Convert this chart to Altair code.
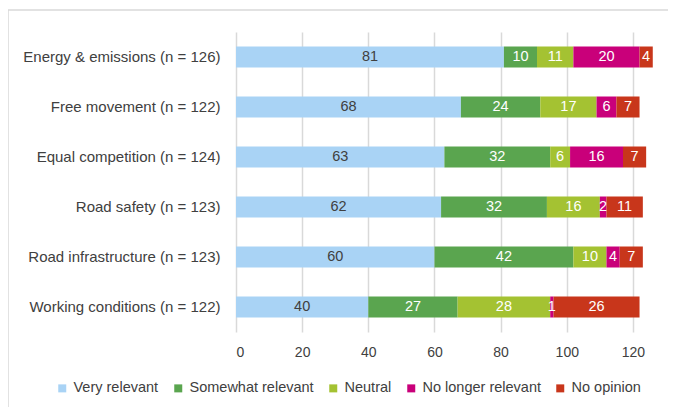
import altair as alt
import pandas as pd

categories = [
    "Energy & emissions (n = 126)",
    "Free movement (n = 122)",
    "Equal competition (n = 124)",
    "Road safety (n = 123)",
    "Road infrastructure (n = 123)",
    "Working conditions (n = 122)",
]
series = ["Very relevant", "Somewhat relevant", "Neutral", "No longer relevant", "No opinion"]
very_relevant = [81, 68, 63, 62, 60, 40]
somewhat_relevant = [10, 24, 32, 32, 42, 27]
neutral = [11, 17, 6, 16, 10, 28]
no_longer_relevant = [20, 6, 16, 2, 4, 1]
no_opinion = [4, 7, 7, 11, 7, 26]
colors = ["#A9D3F5", "#5AA54F", "#A4C232", "#C9007A", "#C8361B"]
text_colors = ["#404040", "#FFFFFF", "#FFFFFF", "#FFFFFF", "#FFFFFF"]
x_ticks = [0, 20, 40, 60, 80, 100, 120]

cols = [very_relevant, somewhat_relevant, neutral, no_longer_relevant, no_opinion]
rows = []
for si, (s, vals) in enumerate(zip(series, cols)):
    for ci, c in enumerate(categories):
        rows.append({"category": c, "series": s, "idx": si, "value": vals[ci],
                     "tcolor": text_colors[si]})
df = pd.DataFrame(rows)

FONT = "Liberation Sans"
W, H = 430, 300

base = alt.Chart(df).transform_stack(
    stack="value", groupby=["category"], as_=["x0", "x1"],
    sort=[alt.SortField("idx", order="ascending")]
).transform_calculate(mid="(datum.x0 + datum.x1) / 2")

xscale = alt.Scale(domain=[0, 130], nice=False, zero=True)
yenc = alt.Y("category:N", sort=categories, title=None,
             axis=alt.Axis(labelFont=FONT, labelFontSize=15, labelColor="#404040",
                           labelPadding=16, ticks=False, domain=False, labelLimit=300))

bars = base.mark_bar(size=21).encode(
    x=alt.X("x0:Q", scale=xscale, title=None,
            axis=alt.Axis(values=x_ticks, grid=True, gridColor="#D9D9D9", gridWidth=1.5,
                          domain=False, ticks=False, labelFont=FONT, labelFontSize=14,
                          labelColor="#404040", labelPadding=13)),
    x2="x1:Q",
    y=yenc,
    color=alt.Color("series:N", scale=alt.Scale(domain=series, range=colors),
                    sort=series,
                    legend=alt.Legend(title=None, orient="none", direction="horizontal",
                                      legendX=-181, legendY=349, symbolType="square",
                                      symbolSize=64, symbolStrokeWidth=0,
                                      labelFont=FONT, labelFontSize=14.5,
                                      labelColor="#404040", columnPadding=12,
                                      labelOffset=4, labelLimit=300)),
)

texts = base.mark_text(font=FONT, fontSize=14.5).encode(
    x=alt.X("mid:Q", scale=xscale),
    y=alt.Y("category:N", sort=categories),
    text="value:Q",
    color=alt.Color("tcolor:N", scale=None),
)

frame = alt.Chart(df).mark_rect(fill=None, stroke="#D9D9D9", strokeWidth=1.5).encode(
    x=alt.value(-228), x2=alt.value(W + 40), y=alt.value(-22), y2=alt.value(H + 120)
).transform_filter("datum.idx == 0 && datum.category == 'Road safety (n = 123)'")

chart = alt.layer(frame, bars, texts).properties(
    width=W, height=H,
    autosize=alt.AutoSizeParams(type="none"),
    padding={"left": 228, "top": 24, "right": 2, "bottom": 75},
).configure_view(stroke=None)

chart.save("out.html", embed_options={"renderer": "svg", "actions": False})
